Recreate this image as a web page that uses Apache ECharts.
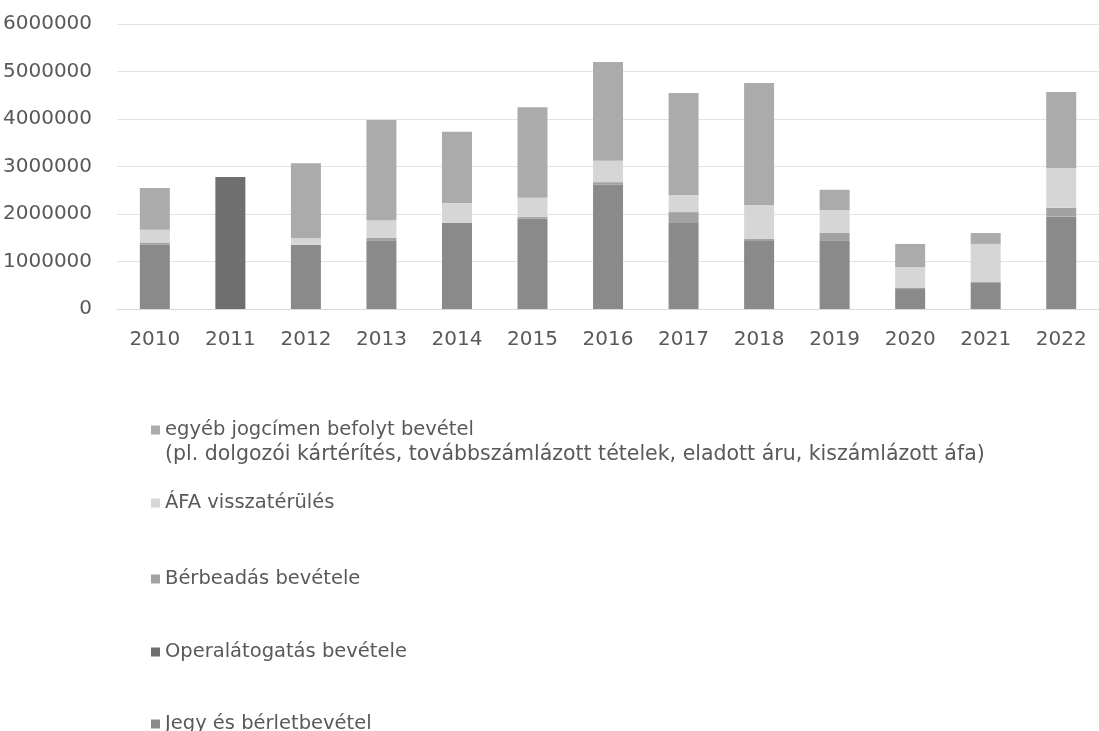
<!DOCTYPE html>
<html>
<head>
<meta charset="utf-8">
<script src="https://cdn.jsdelivr.net/npm/echarts@6/dist/echarts.min.js"></script>
<style>
  html, body { margin: 0; padding: 0; background: #fff; }
  #main { width: 1099px; height: 731px; }
</style>
</head>
<body>
<div id="main"></div>
<script>
// évek
const years = ['2010', '2011', '2012', '2013', '2014', '2015', '2016', '2017', '2018', '2019', '2020', '2021', '2022'];

// bevételek (Ft), alulról felfelé
const jegy = [1350000, 0, 1350000, 1450000, 1810000, 1900000, 2620000, 1810000, 1430000, 1450000, 420000, 550000, 1950000];
const operalatogatas = [0, 2780000, 0, 0, 0, 0, 0, 0, 0, 0, 0, 0, 0];
const berbeadas = [50000, 0, 0, 50000, 0, 40000, 50000, 230000, 50000, 150000, 30000, 20000, 180000];
const afa = [270000, 0, 140000, 370000, 420000, 400000, 450000, 360000, 710000, 480000, 430000, 800000, 840000];
const egyeb = [880000, 0, 1580000, 2110000, 1500000, 1910000, 2080000, 2150000, 2570000, 430000, 490000, 230000, 1600000];

const yTicks = [0, 1000000, 2000000, 3000000, 4000000, 5000000, 6000000];

const names = {
  egyeb: 'egyéb jogcímen befolyt bevétel',
  afa: 'ÁFA visszatérülés',
  berb: 'Bérbeadás bevétele',
  opera: 'Operalátogatás bevétele',
  jegy: 'Jegy és bérletbevétel'
};

const font = 'DejaVu Sans';
const textColor = '#595959';

let chartDom = document.getElementById('main');
let myChart = echarts.init(chartDom);

function bar(name, data, color) {
  return {
    name: name,
    type: 'bar',
    stack: 'total',
    data: data,
    barWidth: 30,
    itemStyle: { color: color },
    emphasis: { disabled: true }
  };
}

function legendAt(name, top) {
  return {
    data: [name],
    left: 146,
    top: top,
    icon: 'rect',
    itemWidth: 9,
    itemHeight: 9,
    itemGap: 8,
    selectedMode: false,
    textStyle: { fontFamily: font, fontSize: 19.5, color: textColor }
  };
}

let option = {
  animation: false,
  backgroundColor: '#fff',
  grid: { left: 117, right: 0, top: 24, bottom: 422 },
  xAxis: {
    type: 'category',
    data: years,
    axisTick: { show: false },
    axisLine: { lineStyle: { color: '#d9d9d9' } },
    axisLabel: { fontFamily: font, fontSize: 20, color: textColor, margin: 21 }
  },
  yAxis: {
    type: 'value',
    min: yTicks[0],
    max: yTicks[yTicks.length - 1],
    interval: 1000000,
    axisLine: { show: false },
    axisTick: { show: false },
    splitLine: { lineStyle: { color: '#e3e3e3' } },
    axisLabel: {
      fontFamily: font, fontSize: 20, color: textColor, margin: 25,
      formatter: v => String(v)
    }
  },
  legend: [
    legendAt(names.egyeb, 415),
    legendAt(names.afa, 488),
    legendAt(names.berb, 564),
    legendAt(names.opera, 637),
    legendAt(names.jegy, 709)
  ],
  graphic: [{
    type: 'text',
    left: 165,
    top: 444,
    style: {
      text: '(pl. dolgozói kártérítés, továbbszámlázott tételek, eladott áru, kiszámlázott áfa)',
      fontFamily: font,
      fontSize: 20.5,
      fill: textColor
    }
  }],
  series: [
    bar(names.jegy, jegy, '#8a8a8a'),
    bar(names.opera, operalatogatas, '#6f6f6f'),
    bar(names.berb, berbeadas, '#a2a2a2'),
    bar(names.afa, afa, '#d6d6d6'),
    bar(names.egyeb, egyeb, '#ababab')
  ]
};

myChart.setOption(option);
</script>
</body>
</html>
